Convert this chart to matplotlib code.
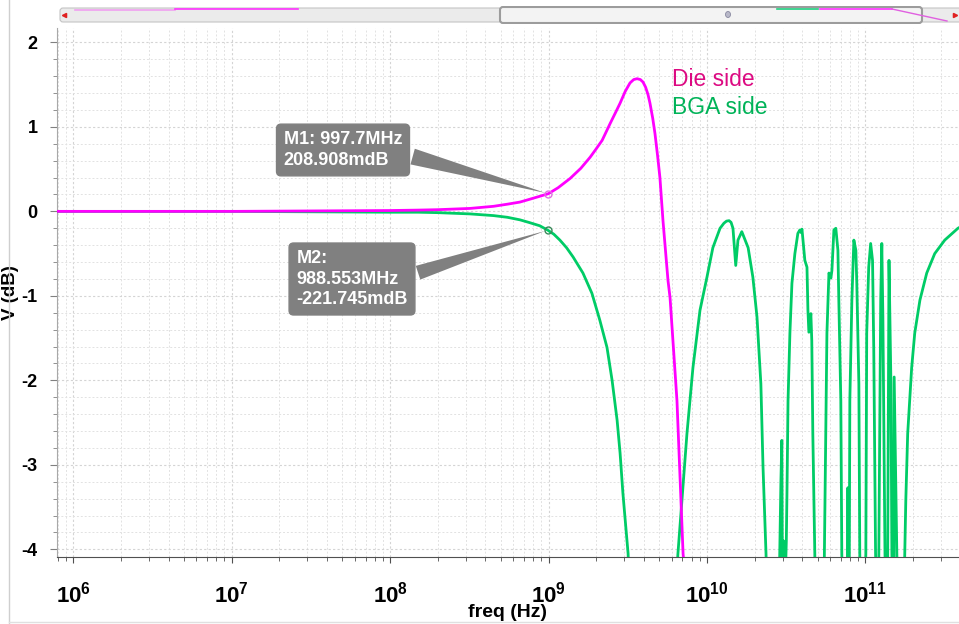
import matplotlib
matplotlib.use('Agg')
import matplotlib.pyplot as plt
from matplotlib.ticker import MultipleLocator, LogLocator, FuncFormatter, NullFormatter
from matplotlib.patches import FancyBboxPatch, Ellipse
from matplotlib.lines import Line2D
import numpy as np

plt.rcParams['font.family'] = ['Liberation Sans', 'DejaVu Sans']
plt.rcParams['mathtext.fontset'] = 'custom'
plt.rcParams['mathtext.rm'] = 'Liberation Sans:bold'
plt.rcParams['mathtext.default'] = 'rm'
plt.rcParams['axes.unicode_minus'] = False

# Die side trace (Hz, dB)
die_freq = [8e5, 1e7, 1e8, 1.5e8, 2e8, 3.2e8, 4.5e8, 5.5e8, 6.6e8, 7.5e8, 8.5e8,
            9.977e8, 1.15e9, 1.37e9, 1.6e9, 1.83e9, 2.0e9, 2.18e9, 2.45e9,
            2.65e9, 2.83e9, 3.05e9, 3.27e9, 3.45e9, 3.62e9, 3.80e9, 3.95e9, 4.10e9,
            4.25e9, 4.37e9, 4.55e9, 4.70e9, 4.88e9, 5.05e9, 5.28e9, 5.68e9, 5.85e9,
            6.47e9, 7.07e9, 7.5e9]
die_db = [0.0, 0.0, 0.01, 0.015, 0.02, 0.035, 0.06, 0.085, 0.11, 0.14, 0.17,
          0.209, 0.28, 0.39, 0.51, 0.64, 0.74, 0.84, 1.04,
          1.17, 1.28, 1.42, 1.52, 1.56, 1.57, 1.56, 1.53, 1.47,
          1.38, 1.28, 1.10, 0.92, 0.66, 0.40, -0.11, -0.82, -1.02,
          -2.24, -4.05, -4.6]

# BGA side trace (Hz, dB)
bga_freq = [8e5, 1e7, 1e8, 1.5e8, 2e8, 3.2e8, 4.5e8, 5.5e8, 6.6e8, 7.5e8, 8.8e8,
            9.886e8, 1.08e9, 1.18e9, 1.3e9, 1.43e9, 1.65e9,
            1.88e9, 2.11e9, 2.34e9, 2.52e9, 2.71e9, 2.83e9, 2.95e9, 3.08e9, 3.18e9,
            3.26e9,
            6.3e9, 6.56e9, 6.95e9, 7.48e9, 8.16e9, 9.04e9, 1.0e10, 1.09e10, 1.21e10,
            1.28e10, 1.33e10, 1.38e10, 1.42e10, 1.46e10, 1.52e10, 1.57e10, 1.66e10,
            1.82e10, 1.95e10, 2.07e10,
            2.19e10, 2.26e10, 2.36e10, 2.40e10,
            2.85e10, 2.93e10, 2.97e10, 3.00e10, 3.05e10, 3.10e10, 3.17e10, 3.20e10,
            3.25e10, 3.34e10, 3.44e10, 3.59e10, 3.75e10, 3.86e10, 3.92e10, 3.98e10,
            4.15e10, 4.28e10, 4.34e10, 4.40e10, 4.53e10, 4.59e10, 4.66e10, 4.80e10,
            4.85e10,
            5.47e10, 5.63e10, 5.72e10, 5.89e10, 6.06e10, 6.15e10, 6.33e10, 6.51e10,
            6.71e10, 6.80e10, 7.00e10, 7.10e10, 7.20e10,
            7.70e10, 7.76e10, 7.82e10, 7.90e10, 7.98e10, 8.22e10, 8.46e10, 8.71e10,
            8.83e10, 9.10e10, 9.22e10, 9.35e10,
            9.9e10, 1.007e11, 1.02e11, 1.05e11, 1.08e11, 1.11e11, 1.13e11, 1.16e11,
            1.18e11,
            1.21e11, 1.25e11, 1.27e11, 1.29e11, 1.33e11, 1.35e11,
            1.38e11, 1.41e11, 1.45e11, 1.47e11, 1.49e11,
            1.51e11, 1.52e11, 1.58e11, 1.60e11,
            1.75e11, 1.80e11, 1.85e11, 1.96e11, 2.05e11, 2.21e11, 2.44e11, 2.74e11,
            3.17e11, 3.84e11, 4.2e11]
bga_db = [0.0, 0.0, -0.01, -0.01, -0.015, -0.03, -0.05, -0.07, -0.10, -0.13, -0.17,
          -0.222, -0.27, -0.34, -0.43, -0.54, -0.73,
          -0.97, -1.29, -1.61, -2.0, -2.47, -2.86, -3.34, -3.74, -4.05,
          -4.6,
          -4.6, -4.05, -3.42, -2.63, -1.85, -1.17, -0.78, -0.43, -0.20,
          -0.14, -0.115, -0.11, -0.13, -0.20, -0.64, -0.34, -0.24,
          -0.43, -0.78, -1.25,
          -2.04, -3.03, -4.05, -4.6,
          -4.6, -3.2, -2.71, -4.6, -3.9, -4.6, -3.9, -3.34,
          -2.24, -1.44, -0.85, -0.50, -0.26, -0.22, -0.25, -0.21,
          -0.58, -0.66, -1.17, -1.43, -1.21, -1.53, -2.63, -4.05,
          -4.6,
          -4.6, -2.63, -1.44, -0.73, -0.79, -0.70, -0.22, -0.20,
          -0.46, -1.05, -2.24, -4.05, -4.6,
          -4.6, -3.27, -4.6, -4.6, -2.24, -1.05, -0.34, -0.46,
          -0.85, -2.04, -4.05, -4.6,
          -4.6, -4.05, -1.44, -0.66, -0.38, -0.58, -1.64, -4.05,
          -4.6,
          -4.6, -1.05, -0.38, -1.25, -4.05, -4.6,
          -4.6, -0.58, -2.04, -4.05, -4.6,
          -4.6, -1.96, -4.05, -4.6,
          -4.6, -3.42, -2.63, -1.85, -1.44, -1.05, -0.73, -0.50,
          -0.34, -0.20, -0.16]

labels = ['Die side', 'BGA side']
m1_freq, m1_db = 997.7e6, 0.208908
m2_freq, m2_db = 988.553e6, -0.221745
m1_text = 'M1: 997.7MHz\n208.908mdB'
m2_text = 'M2:\n988.553MHz\n-221.745mdB'

W, H = 959, 624
fig = plt.figure(figsize=(W / 100, H / 100), dpi=100)
ax = fig.add_axes([57 / W, 1 - 557 / H, 1 - 57 / W, 529 / H])

line_die, = ax.plot(die_freq, die_db, color='#ff00ff', lw=2.0, zorder=4)
line_bga, = ax.plot(bga_freq, bga_db, color='#00cc66', lw=2.0, zorder=3)

ax.set_xscale('log')
ax.set_xlim(7.9e5, 3.9e11)
ax.set_ylim(-4.09, 2.17)

ax.xaxis.set_major_locator(LogLocator(base=10, numticks=20))
ax.xaxis.set_minor_locator(LogLocator(base=10, subs=np.arange(2, 10), numticks=20))
ax.xaxis.set_minor_formatter(NullFormatter())
ax.xaxis.set_major_formatter(FuncFormatter(lambda v, p: r'$10^{%d}$' % round(np.log10(v))))
ax.yaxis.set_major_locator(MultipleLocator(1))
ax.yaxis.set_minor_locator(MultipleLocator(0.2))
ax.yaxis.set_major_formatter(FuncFormatter(lambda v, p: '%d' % round(v)))

ax.grid(True, which='major', color='#d4d4d4', linestyle=(0, (2, 2)), lw=0.8)
ax.grid(True, which='minor', color='#e2e2e2', linestyle=(0, (2, 2)), lw=0.7)
ax.set_axisbelow(True)

for s in ['top', 'right']:
    ax.spines[s].set_visible(False)
ax.spines['left'].set_color('#a8a8a8')
ax.spines['bottom'].set_color('#505050')
ax.tick_params(axis='y', which='major', length=5, color='#808080', labelsize=13, pad=9)
ax.tick_params(axis='y', which='minor', length=3, color='#808080')
ax.tick_params(axis='x', which='major', length=4, color='#505050', labelsize=16, pad=14)
ax.tick_params(axis='x', which='minor', length=3, color='#505050')
for t in ax.get_yticklabels():
    t.set_fontweight('bold')

ax.set_xlabel('freq (Hz)', fontsize=14, fontweight='bold', labelpad=-3)
ax.set_ylabel('V (dB)', fontsize=13.5, fontweight='bold')
ax.yaxis.set_label_coords(-0.042, 0.5)

# markers
ax.plot([m1_freq], [m1_db], 'o', mfc='none', mec='#e070e0', ms=5, mew=1, zorder=6)
ax.plot([m2_freq], [m2_db], 'o', mfc='none', mec='#3a8a5a', ms=5, mew=1, zorder=6)

box = dict(boxstyle='round,pad=0.4,rounding_size=0.25', fc='#808080', ec='#808080')
ax.annotate(m1_text, xy=(m1_freq, m1_db), xytext=(343, H - 150), textcoords='figure pixels',
            ha='center', va='center', multialignment='left', color='white',
            fontsize=13, fontweight='bold', linespacing=1.25, bbox=box, zorder=7,
            arrowprops=dict(arrowstyle='wedge,tail_width=0.9,shrink_factor=0.5',
                            fc='#808080', ec='none', relpos=(1.0, 0.4), shrinkB=2))
ax.annotate(m2_text, xy=(m2_freq, m2_db), xytext=(352, H - 279), textcoords='figure pixels',
            ha='center', va='center', multialignment='left', color='white',
            fontsize=13, fontweight='bold', linespacing=1.25, bbox=box, zorder=7,
            arrowprops=dict(arrowstyle='wedge,tail_width=0.8,shrink_factor=0.5',
                            fc='#808080', ec='none', relpos=(1.0, 0.55), shrinkB=2))

leg = ax.legend([line_die, line_bga], labels, loc='upper left',
                bbox_to_anchor=((672 - 57) / (W - 57), (557 - 68) / 529),
                frameon=False, handlelength=0, handletextpad=0, borderpad=0,
                borderaxespad=0, labelspacing=0.2, fontsize=16.5,
                labelcolor=['#dc0a82', '#00b358'])
for h in leg.legend_handles:
    h.set_visible(False)

# scroll strip on top
sax = fig.add_axes([0, 1 - 24 / H, 1, 18 / H])
sax.set_xlim(0, W)
sax.set_ylim(24, 6)
sax.axis('off')
sax.add_patch(FancyBboxPatch((60, 8), 905, 14, boxstyle='round,pad=0,rounding_size=3',
                             fc='#ebebeb', ec='#c4c4c4', lw=0.8))
sax.add_patch(FancyBboxPatch((500, 7), 422, 16, boxstyle='round,pad=0,rounding_size=3',
                             fc='#f3f3f3', ec='#9c9c9c', lw=1.5))
sax.add_patch(Ellipse((728, 14.5), 5, 6, fc='#b8b8c8', ec='#8888a0', lw=0.6))
sax.plot([64], [14.5], marker='<', color='#e02020', ms=3)
sax.plot([955], [14.5], marker='>', color='#e02020', ms=3)
sax.plot([75, 175], [9.5, 9.5], color='#f0a0f0', lw=1.2)
sax.plot([175, 298], [9, 9], color='#ff30ff', lw=1.2)
sax.plot([777, 818], [9, 9], color='#20d080', lw=1.2)
sax.plot([820, 892], [9, 9], color='#ff30ff', lw=1.2)
sax.plot([892, 947], [9, 21], color='#e060e0', lw=1.0)

fig.add_artist(Line2D([9 / W, 9 / W], [0, 1], transform=fig.transFigure, color='#cfcfcf', lw=1))
fig.add_artist(Line2D([9 / W, 1], [2 / H, 2 / H], transform=fig.transFigure, color='#e0e0e0', lw=1))

fig.savefig('out.png', dpi=100)
